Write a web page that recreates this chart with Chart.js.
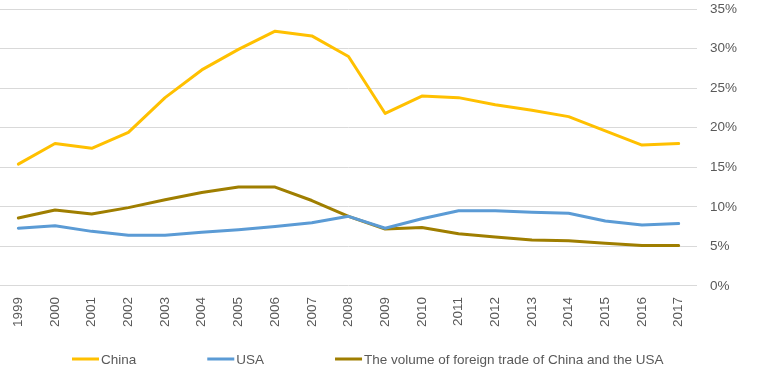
<!DOCTYPE html>
<html>
<head>
<meta charset="utf-8">
<script src="https://cdn.jsdelivr.net/npm/chart.js@4"></script>
<style>
html,body{margin:0;padding:0;background:#fff;}
#wrap{width:759px;height:381px;position:relative;}
</style>
</head>
<body>
<div id="wrap"><canvas id="c" width="759" height="381"></canvas></div>
<script>
const years = ["1999","2000","2001","2002","2003","2004","2005","2006","2007","2008","2009","2010","2011","2012","2013","2014","2015","2016","2017"];
const china = [15.4,18.0,17.4,19.4,23.8,27.3,29.9,32.2,31.6,29.0,21.8,24.0,23.8,22.9,22.2,21.4,19.6,17.8,18.0];
const usa = [7.3,7.6,6.9,6.4,6.4,6.8,7.1,7.5,8.0,8.8,7.3,8.5,9.5,9.5,9.3,9.2,8.2,7.7,7.9];
const trade = [8.6,9.6,9.1,9.9,10.9,11.8,12.5,12.5,10.8,8.8,7.2,7.4,6.6,6.2,5.8,5.7,5.4,5.1,5.1];
const seriesNames = ["China","USA","The volume of foreign trade of China and the USA"];
const yTicks = [0,5,10,15,20,25,30,35];

const FONT_FAMILY = "'Liberation Sans', Arial, sans-serif";
const font = {family:FONT_FAMILY, size:13.5};

// Excel-like legend drawn below the plot
const excelLegend = {
  id:'excelLegend',
  afterDraw(chart){
    const ctx = chart.ctx;
    ctx.save();
    ctx.font = '13.5px ' + FONT_FAMILY;
    ctx.textBaseline = 'middle';
    ctx.textAlign = 'left';
    let x = 72;
    const y = 359;
    chart.data.datasets.forEach(ds=>{
      ctx.fillStyle = ds.borderColor;
      ctx.fillRect(x, y-1.5, 27, 3);
      x += 29;
      ctx.fillStyle = '#595959';
      ctx.fillText(ds.label, x, y+1);
      x += ctx.measureText(ds.label).width + 71;
    });
    ctx.restore();
  }
};

new Chart(document.getElementById('c'), {
  type:'line',
  data:{
    labels:years,
    datasets:[
      {label:seriesNames[0],data:china,borderColor:'#FFC000',backgroundColor:'#FFC000'},
      {label:seriesNames[1],data:usa,borderColor:'#5B9BD5',backgroundColor:'#5B9BD5'},
      {label:seriesNames[2],data:trade,borderColor:'#9F7E00',backgroundColor:'#9F7E00'}
    ]
  },
  plugins:[excelLegend],
  options:{
    responsive:false,
    animation:false,
    devicePixelRatio:1,
    elements:{line:{borderWidth:3,tension:0,borderCapStyle:'round',borderJoinStyle:'round'},point:{radius:0}},
    layout:{padding:{left:0,right:0,top:0,bottom:51}},
    plugins:{
      legend:{display:false},
      tooltip:{enabled:false}
    },
    scales:{
      x:{
        offset:true,
        grid:{display:false},
        border:{display:false},
        ticks:{color:'#595959',font:font,minRotation:90,maxRotation:90,padding:3,autoSkip:false}
      },
      y:{
        position:'right',
        min:0,max:35,
        afterBuildTicks:(s)=>{s.ticks=yTicks.map(v=>({value:v}));},
        afterFit:(s)=>{s.width=62;s.paddingTop=9;s.paddingBottom=0;},
        grid:{color:'#D9D9D9',drawTicks:false,lineWidth:1},
        border:{display:false},
        ticks:{color:'#595959',font:font,padding:13,autoSkip:false,callback:v=>v+'%'}
      }
    }
  }
});
</script>
</body>
</html>
